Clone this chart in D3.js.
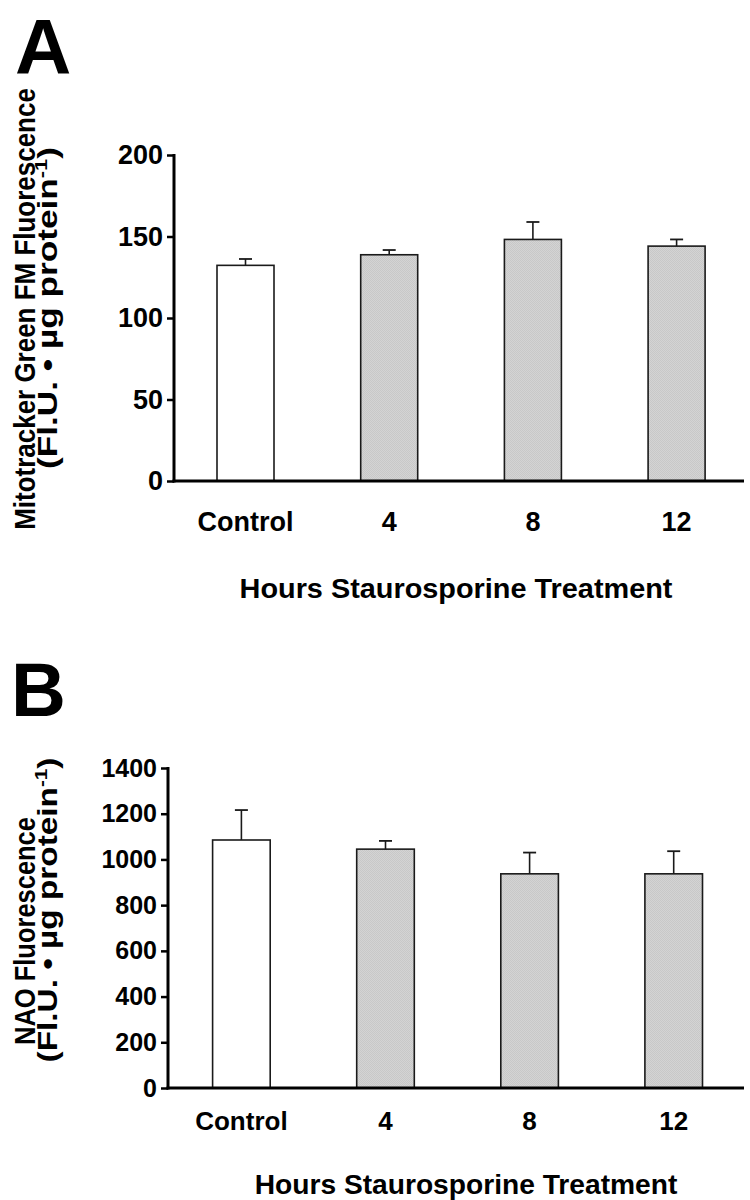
<!DOCTYPE html>
<html><head><meta charset="utf-8">
<script src="https://cdn.jsdelivr.net/npm/d3@7"></script>
<style>
html,body{margin:0;padding:0;background:#fff;}
svg{display:block;}
text{font-family:"Liberation Sans",Arial,Helvetica,sans-serif;font-weight:bold;fill:#000;}
</style></head>
<body>
<svg id="chart" width="750" height="1200"></svg>
<script>
const categories = ["Control", "4", "8", "12"];
const mitoMeans = [132.3, 138.8, 148.2, 144.1];
const mitoSEM = [3.9, 2.9, 10.7, 4.1];
const mitoTicks = [0, 50, 100, 150, 200];
const naoMeans = [1085, 1045, 937, 937];
const naoSEM = [131, 36, 93, 99];
const naoTicks = [0, 200, 400, 600, 800, 1000, 1200, 1400];
const barFills = ["#ffffff", "#d0d0d0", "#d0d0d0", "#d0d0d0"];
const xTitle = "Hours Staurosporine Treatment";

const svg = d3.select("#chart");

const defs = svg.append("defs");
const pat = defs.append("pattern").attr("id","stip").attr("width",2).attr("height",2).attr("patternUnits","userSpaceOnUse");
pat.append("rect").attr("width",2).attr("height",2).attr("fill","#d4d4d4");
pat.append("rect").attr("width",1).attr("height",1).attr("fill","#c8c8c8");
pat.append("rect").attr("x",1).attr("y",1).attr("width",1).attr("height",1).attr("fill","#c8c8c8");

function fitText(sel, target) {
  const w = sel.node().getComputedTextLength();
  return target / w;
}

function panel(cfg) {
  const g = svg.append("g");
  const n = categories.length;
  const pi = 1 - cfg.barW / cfg.step;
  const r0 = cfg.axisX + cfg.firstStart;
  const x = d3.scaleBand().domain(categories)
    .range([r0, r0 + cfg.step * (n - pi)])
    .paddingInner(pi).paddingOuter(0);

  const y = d3.scaleLinear().domain(cfg.domain).range([cfg.y0, cfg.yTop]);

  g.selectAll("rect.bar").data(cfg.means).join("rect")
    .attr("class","bar")
    .attr("x",(d,i)=>x(categories[i]))
    .attr("y",d=>y(d))
    .attr("width",x.bandwidth())
    .attr("height",d=>y(0)-y(d))
    .attr("fill",(d,i)=> i===0 ? barFills[0] : "url(#stip)")
    .attr("stroke","#1a1a1a").attr("stroke-width",1.6);

  const capW = 13;
  g.selectAll("line.err").data(cfg.means).join("line")
    .attr("x1",(d,i)=>x(categories[i])+x.bandwidth()/2)
    .attr("x2",(d,i)=>x(categories[i])+x.bandwidth()/2)
    .attr("y1",d=>y(d))
    .attr("y2",(d,i)=>y(d+cfg.sem[i]))
    .attr("stroke","#1a1a1a").attr("stroke-width",1.6);
  g.selectAll("line.cap").data(cfg.means).join("line")
    .attr("x1",(d,i)=>x(categories[i])+x.bandwidth()/2-capW/2)
    .attr("x2",(d,i)=>x(categories[i])+x.bandwidth()/2+capW/2)
    .attr("y1",(d,i)=>y(d+cfg.sem[i]))
    .attr("y2",(d,i)=>y(d+cfg.sem[i]))
    .attr("stroke","#1a1a1a").attr("stroke-width",1.8);

  const ya = g.append("g").attr("transform",`translate(${cfg.axisX},0)`)
    .call(d3.axisLeft(y).tickValues(cfg.ticks).tickFormat(d3.format("d"))
      .tickSize(7).tickSizeOuter(0).tickPadding(4));
  ya.select(".domain").attr("stroke","#000").attr("stroke-width",3)
    .attr("d",`M0,${cfg.yTop-1}V${cfg.y0+1.5}`);
  ya.selectAll(".tick line").attr("stroke","#000").attr("stroke-width",2.5);
  ya.selectAll(".tick text").attr("font-size",cfg.tickFont).attr("fill","#000")
    .attr("font-family","Liberation Sans, Arial, sans-serif").attr("font-weight","bold");

  g.append("line").attr("x1",cfg.axisX-1.5).attr("x2",cfg.xEnd)
    .attr("y1",cfg.y0).attr("y2",cfg.y0)
    .attr("stroke","#000").attr("stroke-width",3);

  g.selectAll("text.xl").data(categories).join("text")
    .attr("class","xl")
    .attr("x",d=>x(d)+x.bandwidth()/2)
    .attr("y",cfg.xLabelY)
    .attr("text-anchor","middle").attr("font-size",cfg.xFont)
    .text(d=>d);

  const xt = g.append("text").attr("text-anchor","middle").attr("font-size",cfg.xTitleFont)
    .text(xTitle);
  const sx = fitText(xt, cfg.xTitleLen);
  xt.attr("transform",`translate(${cfg.xTitleX},${cfg.xTitleY}) scale(${sx},1)`);

  cfg.yTitle.forEach((t,i)=>{
    const tx = g.append("text")
      .attr("text-anchor","middle").attr("font-size",cfg.yTitleFont[i]);
    if (t.sup) {
      tx.append("tspan").text(t.main);
      tx.append("tspan").attr("dy",-10).attr("font-size",cfg.yTitleFont[i]*0.62).text(t.sup);
      tx.append("tspan").attr("dy",10).text(t.end);
    } else {
      tx.text(t.main);
    }
    const s = fitText(tx, cfg.yTitleLen[i]);
    tx.attr("transform",`translate(${cfg.yTitleX[i]},${cfg.yTitleY[i]}) rotate(-90) scale(${s},1)`);
  });

  g.append("text").attr("x",cfg.letterX).attr("y",cfg.letterY)
    .attr("font-size",cfg.letterFont)
    .text(cfg.letter);
}

panel({
  letter:"A", letterX:15, letterY:74, letterFont:78,
  means:mitoMeans, sem:mitoSEM, ticks:mitoTicks, domain:[0,200],
  axisX:174, y0:481, yTop:155, firstStart:43, step:143.7, barW:57, xEnd:744,
  tickFont:27, xFont:27, xLabelY:531,
  xTitleX:456, xTitleY:598, xTitleFont:27, xTitleLen:433,
  yTitle:[{main:"Mitotracker Green FM Fluorescence"},{main:"(Fl.U. • µg protein",sup:"-1",end:")"}],
  yTitleX:[35,57], yTitleY:[309,308], yTitleFont:[30,28], yTitleLen:[442,322]
});

panel({
  letter:"B", letterX:11, letterY:716, letterFont:76,
  means:naoMeans, sem:naoSEM, ticks:naoTicks, domain:[0,1400],
  axisX:168, y0:1088, yTop:768, firstStart:44.6, step:144.1, barW:57.6, xEnd:744,
  tickFont:25, xFont:26, xLabelY:1130,
  xTitleX:466, xTitleY:1194, xTitleFont:28, xTitleLen:423,
  yTitle:[{main:"NAO Fluorescence"},{main:"(Fl.U. • µg protein",sup:"-1",end:")"}],
  yTitleX:[35,57], yTitleY:[931,910], yTitleFont:[29,27], yTitleLen:[228,305]
});
</script>
</body></html>
